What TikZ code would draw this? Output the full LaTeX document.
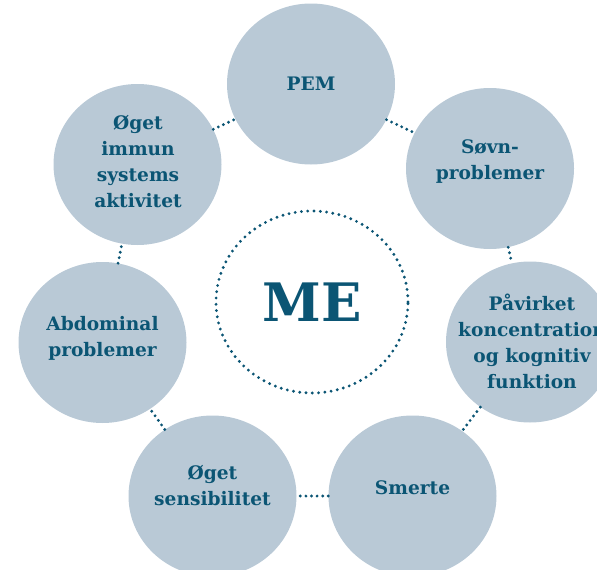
\documentclass[tikz,border=0pt]{standalone}
\usepackage{fontspec}
\setmainfont{DejaVu Serif}
\usetikzlibrary{shapes.geometric}
\definecolor{bubblegray}{HTML}{B9C9D6}
\definecolor{deepteal}{HTML}{0B5574}

\begin{document}
\begin{tikzpicture}[x=1pt,y=-1pt,
  bubble/.style={ellipse,fill=bubblegray,minimum width=168pt,minimum height=161pt,inner sep=0pt},
  bubbletext/.style={text=deepteal,font=\bfseries\fontsize{18.6}{26}\selectfont,align=center},
  link/.style={deepteal,line width=3.2pt,line cap=round,dash pattern=on 0pt off 5.6pt},
  ring/.style={ellipse,draw=deepteal,line width=3.2pt,line cap=round,dash pattern=on 0pt off 6.3pt,
    minimum width=192pt,minimum height=182pt,inner sep=0pt,text=deepteal,font=\bfseries\fontsize{53}{53}\selectfont}]
  \useasboundingbox (0,0) rectangle (597,570);

  % Centre
  \node[ring] (me) at (312,302) {ME};

  % Bubbles
  \node[bubble] (pem) at (311,84) {};
  \node[bubble] (sovn) at (490,168.5) {};
  \node[bubble] (paavirket) at (530,342) {};
  \node[bubble] (smerte) at (412.5,496) {};
  \node[bubble] (sens) at (212.5,496) {};
  \node[bubble] (abdom) at (102.5,342.5) {};
  \node[bubble] (immun) at (137.5,164.5) {};

  % Texts
  \node[bubbletext] (pem-t) at (311,83.5) {PEM};
  \node[bubbletext] (sovn-t) at (490,162) {Søvn-\\problemer};
  \node[bubbletext] (paavirket-t) at (532,341) {Påvirket\\koncentration\\og kognitiv\\funktion};
  \node[bubbletext] (smerte-t) at (412.5,488) {Smerte};
  \node[bubbletext] (sens-t) at (212.5,486) {Øget\\sensibilitet};
  \node[bubbletext] (abdom-t) at (102.5,338) {Abdominal\\problemer};
  \node[bubbletext] (immun-t) at (138,161.5) {Øget\\immun\\systems\\aktivitet};

  % Dotted links
  \draw[link] (pem) -- (sovn);
  \draw[link] (sovn) -- (paavirket);
  \draw[link] (paavirket) -- (smerte);
  \draw[link] (smerte) -- (sens);
  \draw[link] (sens) -- (abdom);
  \draw[link] (abdom) -- (immun);
  \draw[link] (immun) -- (pem);
\end{tikzpicture}
\end{document}
